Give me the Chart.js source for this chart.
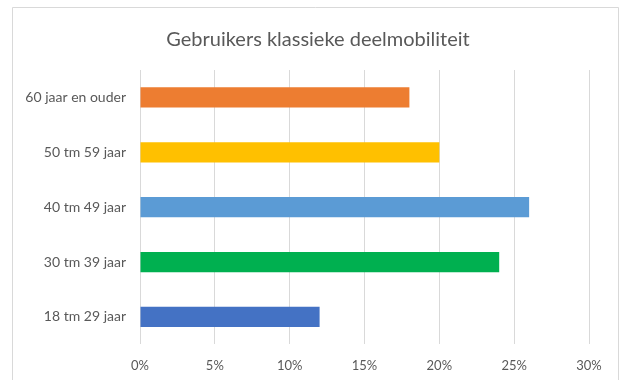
<!DOCTYPE html>
<html lang="nl">
<head>
    <meta charset="UTF-8">
    <title>Gebruikers klassieke deelmobiliteit</title>
    <script src="https://cdn.jsdelivr.net/npm/chart.js"></script>
    <style>
        html, body {
            margin: 0;
            padding: 0;
            background: #ffffff;
            overflow: hidden;
        }
        canvas {
            display: block;
        }
    </style>
</head>
<body>
    <canvas id="ageChart" width="622" height="380"></canvas>

    <script>
        // Leeftijdsgroepen, jongste eerst (onderaan in de grafiek)
        const ageGroups = ['18 tm 29 jaar', '30 tm 39 jaar', '40 tm 49 jaar', '50 tm 59 jaar', '60 jaar en ouder'];
        const userShare = [12, 24, 26, 20, 18];
        const barColors = ['#4472C4', '#00B050', '#5B9BD5', '#FFC000', '#ED7D31'];
        const axisMax = 30;
        const axisStep = 5;
        const chartTitle = 'Gebruikers klassieke deelmobiliteit';

        const textColor = '#595959';
        const fontFamily = 'Lato, "Open Sans", sans-serif';

        // Frame around the chart and the title text
        const frameAndTitle = {
            id: 'frameAndTitle',
            beforeDraw(chart) {
                const ctx = chart.ctx;
                ctx.save();
                ctx.fillStyle = '#ffffff';
                ctx.fillRect(0, 0, chart.width, chart.height);
                ctx.strokeStyle = '#d9d9d9';
                ctx.lineWidth = 1;
                ctx.beginPath();
                ctx.moveTo(12.5, chart.height);
                ctx.lineTo(12.5, 7.5);
                ctx.lineTo(618.5, 7.5);
                ctx.lineTo(618.5, chart.height);
                ctx.stroke();
                ctx.restore();
            },
            afterDraw(chart) {
                const ctx = chart.ctx;
                ctx.save();
                ctx.fillStyle = textColor;
                ctx.font = '20px ' + fontFamily;
                ctx.textAlign = 'center';
                ctx.textBaseline = 'middle';
                ctx.fillText(chartTitle, 318, 40);
                ctx.restore();
            }
        };

        const ctx = document.getElementById('ageChart').getContext('2d');
        new Chart(ctx, {
            type: 'bar',
            data: {
                labels: ageGroups,
                datasets: [{
                    data: userShare,
                    backgroundColor: barColors,
                    borderWidth: 0,
                    categoryPercentage: 1,
                    barPercentage: 0.37
                }]
            },
            options: {
                indexAxis: 'y',
                responsive: false,
                animation: false,
                layout: {
                    padding: { top: 70, right: 33, bottom: -8, left: 0 }
                },
                plugins: {
                    legend: { display: false },
                    tooltip: { enabled: false }
                },
                scales: {
                    x: {
                        min: 0,
                        max: axisMax,
                        ticks: {
                            stepSize: axisStep,
                            padding: 14,
                            color: textColor,
                            font: { family: fontFamily, size: 13 },
                            callback: value => value + '%'
                        },
                        grid: {
                            color: '#d9d9d9',
                            lineWidth: 1,
                            drawTicks: false
                        },
                        border: { display: false }
                    },
                    y: {
                        reverse: true,
                        ticks: {
                            padding: 14,
                            color: textColor,
                            font: { family: fontFamily, size: 14 }
                        },
                        grid: { display: false, drawTicks: false },
                        border: { display: false },
                        afterFit(scale) {
                            scale.width = 140;
                        }
                    }
                }
            },
            plugins: [frameAndTitle]
        });
    </script>
</body>
</html>
